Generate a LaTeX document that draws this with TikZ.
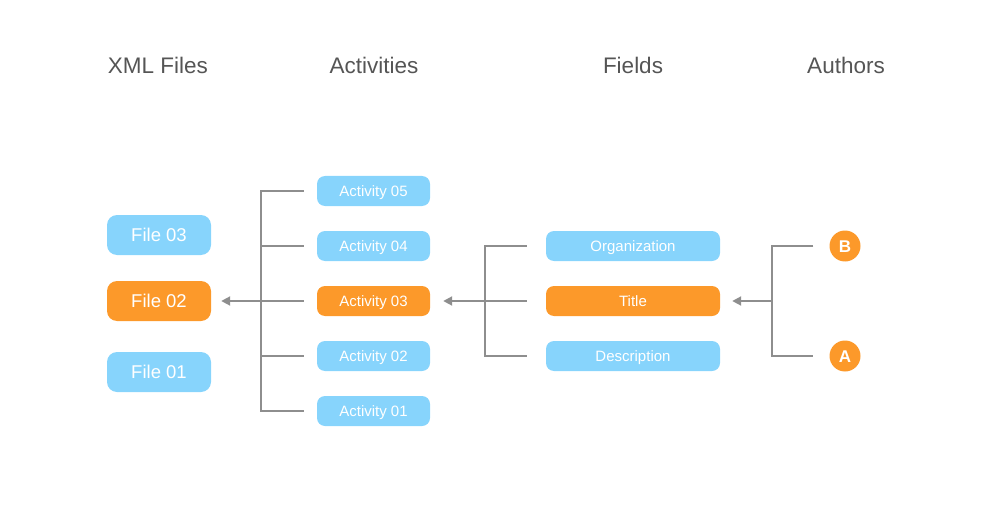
\documentclass[tikz,border=0pt]{standalone}
\usepackage{fontspec}
\setmainfont{Liberation Sans}
\usetikzlibrary{arrows.meta}
\definecolor{lblue}{RGB}{135,212,252}
\definecolor{orng}{RGB}{252,153,42}
\definecolor{lgray}{RGB}{142,142,142}
\definecolor{hgray}{RGB}{85,85,85}
\tikzset{
  hdr/.style={text=hgray,font=\fontsize{22.5}{26}\selectfont},
  boxtext/.style={text depth=0pt,inner sep=0pt,text=white},
  filebox/.style={boxtext,text height=13.25pt,rounded corners=10pt,minimum width=104pt,minimum height=40pt,font=\fontsize{18.5}{22}\selectfont},
  actbox/.style={boxtext,text height=10.74pt,rounded corners=8pt,minimum width=113pt,minimum height=30pt,font=\fontsize{15}{18}\selectfont},
  fieldbox/.style={boxtext,text height=10.74pt,rounded corners=8pt,minimum width=174pt,minimum height=30pt,font=\fontsize{15}{18}\selectfont},
  author/.style={boxtext,text height=12.2pt,circle,fill=orng,minimum size=31pt,font=\fontsize{17}{20}\selectfont\bfseries},
  blue/.style={fill=lblue},
  hot/.style={fill=orng},
  conn/.style={draw=lgray,line width=2pt},
  arr/.style={draw=lgray,line width=2pt,-{Triangle[length=9pt,width=9pt]}},
}
\begin{document}
\begin{tikzpicture}[x=1pt,y=-1pt]
\useasboundingbox (0,0) rectangle (1000,505);
\node[hdr] (h1) at (158,65) {XML Files};
\node[hdr] (h2) at (374,65) {Activities};
\node[hdr] (h3) at (633,65) {Fields};
\node[hdr] (h4) at (846,65) {Authors};

\node[filebox,blue] (f3) at (159,235) {File 03};
\node[filebox,hot] (f2) at (159,301) {File 02};
\node[filebox,blue] (f1) at (159,372) {File 01};

\node[actbox,blue] (a5) at (373.5,191) {Activity 05};
\node[actbox,blue] (a4) at (373.5,246) {Activity 04};
\node[actbox,hot] (a3) at (373.5,301) {Activity 03};
\node[actbox,blue] (a2) at (373.5,356) {Activity 02};
\node[actbox,blue] (a1) at (373.5,411) {Activity 01};

\node[fieldbox,blue] (o) at (633,246) {Organization};
\node[fieldbox,hot] (t) at (633,301) {Title};
\node[fieldbox,blue] (d) at (633,356) {Description};

\node[author] (b) at (845,246) {B};
\node[author] (a) at (845,356) {A};

% activities bracket
\coordinate (ja) at (261,301);
\draw[conn] ([xshift=-13pt]a5.west) -| (261,411) -- ([xshift=-13pt]a1.west);
\foreach \n in {a4,a3,a2} \draw[conn] ([xshift=-13pt]\n.west) -- (\n.west -| ja);
\draw[arr] (ja) -- ([xshift=10pt]f2.east);

% fields bracket
\coordinate (jf) at (485,301);
\draw[conn] ([xshift=-19pt]o.west) -| (485,356) -- ([xshift=-19pt]d.west);
\draw[conn] ([xshift=-19pt]t.west) -- (jf);
\draw[arr] (jf) -- ([xshift=13pt]a3.east);

% authors bracket
\coordinate (jt) at (772,301);
\draw[conn] ([xshift=-16pt]b.west) -| (772,356) -- ([xshift=-16pt]a.west);
\draw[arr] (jt) -- ([xshift=12pt]t.east);
\end{tikzpicture}
\end{document}
